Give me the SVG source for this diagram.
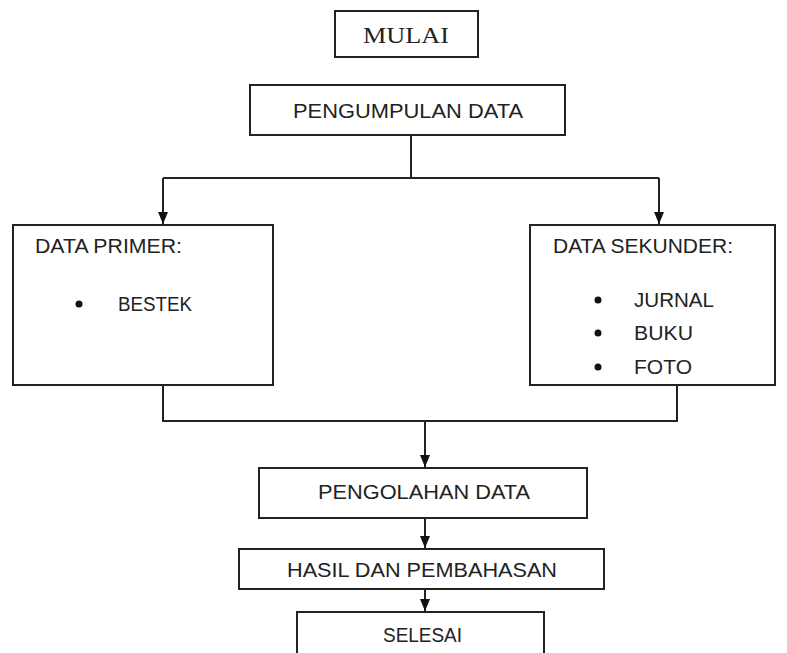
<svg xmlns="http://www.w3.org/2000/svg" width="787" height="653" viewBox="0 0 787 653">
<style>
.box{fill:#fff;stroke:#222;stroke-width:2}
.ln{fill:none;stroke:#222;stroke-width:2}
.t{font-family:"Liberation Sans",Arial,sans-serif;font-size:20px;fill:#222}
.s{font-family:"Liberation Serif","Times New Roman",serif;font-size:23px;fill:#222}
</style>
<defs>
<marker id="ah" viewBox="0 0 12 10" refX="12" refY="5" markerWidth="12" markerHeight="10" markerUnits="userSpaceOnUse" orient="auto">
<path d="M0,0 L12,5 L0,10 Z" fill="#111"/>
</marker>
</defs>
<rect width="787" height="653" fill="#fff"/>
<g id="connectors">
<path class="ln" d="M411,135 V178"/>
<path class="ln" d="M163,178 H659"/>
<path class="ln" d="M163,178 V224" marker-end="url(#ah)"/>
<path class="ln" d="M659,178 V224" marker-end="url(#ah)"/>
<path class="ln" d="M163,385 V421 H677 V385"/>
<path class="ln" d="M425,421 V467" marker-end="url(#ah)"/>
<path class="ln" d="M425,518 V548" marker-end="url(#ah)"/>
<path class="ln" d="M425,589 V611" marker-end="url(#ah)"/>
</g>
<g id="mulai">
<rect class="box" x="335" y="11" width="143" height="46"/>
<text class="s" x="406" y="43" text-anchor="middle" textLength="86" lengthAdjust="spacingAndGlyphs">MULAI</text>
</g>
<g id="pengumpulan">
<rect class="box" x="250" y="85" width="315" height="50"/>
<text class="t" x="293" y="118" textLength="230" lengthAdjust="spacingAndGlyphs">PENGUMPULAN DATA</text>
</g>
<g id="primer">
<rect class="box" x="13" y="225" width="260" height="160"/>
<text class="t" x="35" y="253" textLength="147" lengthAdjust="spacingAndGlyphs">DATA PRIMER:</text>
<circle cx="79" cy="304" r="3.5" fill="#111"/>
<text class="t" x="118" y="311" textLength="74" lengthAdjust="spacingAndGlyphs">BESTEK</text>
</g>
<g id="sekunder">
<rect class="box" x="530" y="225" width="245" height="160"/>
<text class="t" x="553" y="253" textLength="180" lengthAdjust="spacingAndGlyphs">DATA SEKUNDER:</text>
<circle cx="598" cy="300" r="3.5" fill="#111"/>
<text class="t" x="634" y="307" textLength="80" lengthAdjust="spacingAndGlyphs">JURNAL</text>
<circle cx="598" cy="333" r="3.5" fill="#111"/>
<text class="t" x="634" y="340" textLength="59" lengthAdjust="spacingAndGlyphs">BUKU</text>
<circle cx="598" cy="367" r="3.5" fill="#111"/>
<text class="t" x="634" y="374" textLength="58" lengthAdjust="spacingAndGlyphs">FOTO</text>
</g>
<g id="pengolahan">
<rect class="box" x="259" y="468" width="328" height="50"/>
<text class="t" x="318" y="499" textLength="212" lengthAdjust="spacingAndGlyphs">PENGOLAHAN DATA</text>
</g>
<g id="hasil">
<rect class="box" x="239" y="549" width="365" height="40"/>
<text class="t" x="287" y="577" textLength="270" lengthAdjust="spacingAndGlyphs">HASIL DAN PEMBAHASAN</text>
</g>
<g id="selesai">
<rect class="box" x="297" y="612" width="247" height="50"/>
<text class="t" x="383" y="642" textLength="79" lengthAdjust="spacingAndGlyphs">SELESAI</text>
</g>
</svg>
